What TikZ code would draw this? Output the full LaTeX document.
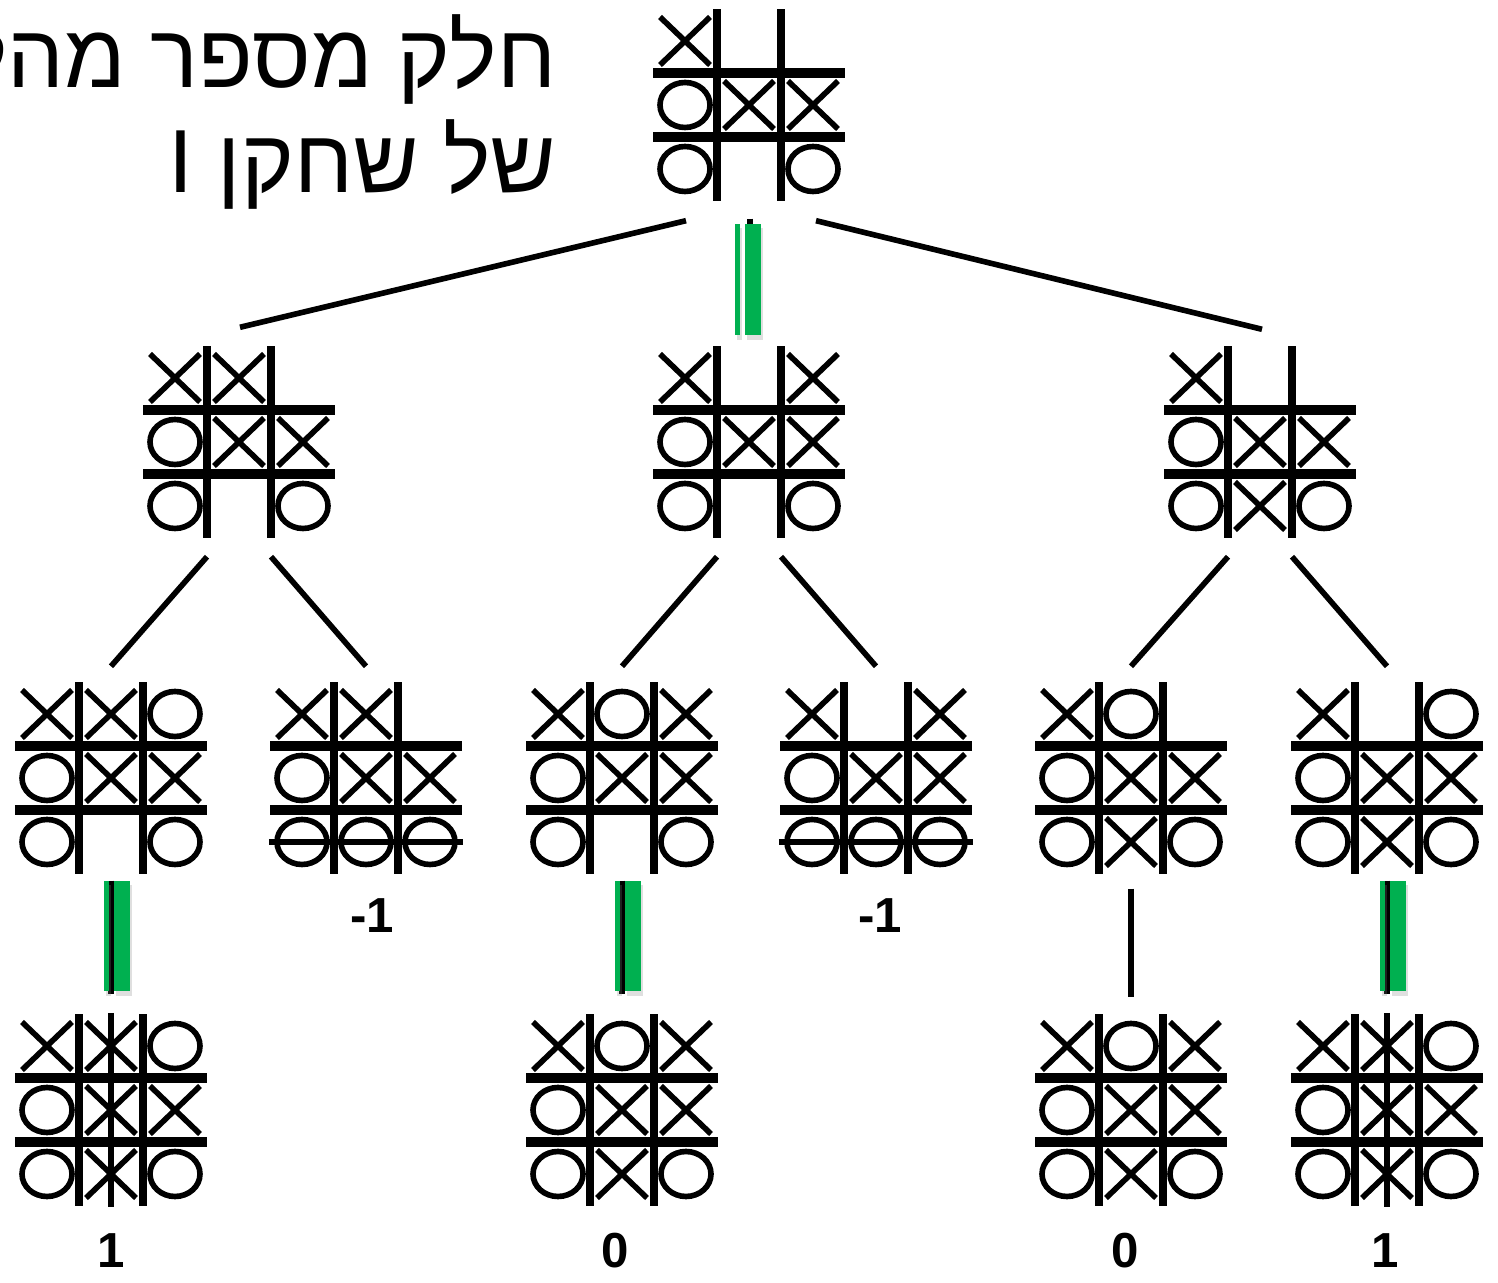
\documentclass[tikz,border=0pt]{standalone}
\usepackage{fontspec}
\setmainfont{Liberation Sans}
\newfontfamily\hebfont[Script=Hebrew]{Liberation Sans}
\TeXXeTstate=1
\usetikzlibrary{shadows}

\definecolor{pickgreen}{RGB}{0,176,80}

\tikzset{
	board/.style = {minimum size=1.93cm, inner sep=0pt},
	grid/.style = {line width=2.6pt},
	piece/.style = {line width=1.6pt},
	edge/.style = {line width=1.6pt},
	strike/.style = {line width=1.5pt},
	pick/.style = {fill=pickgreen, drop shadow={opacity=0.25, shadow xshift=0.6pt, shadow yshift=-1.2pt}},
	value/.style = {font=\fontsize{14}{14}\selectfont\bfseries, inner sep=0pt},
	title/.style = {font=\hebfont\fontsize{25.5}{30}\selectfont, inner sep=0pt},
}

% tic-tac-toe board: name, centre, X cells, O cells (column/row)
\newcommand{\Board}[4]{%
	\node[board] (#1) at (#2) {};
	\begin{scope}[shift={(#2)}]
		\draw[grid] (-0.96,0.32) -- (0.96,0.32) (-0.96,-0.32) -- (0.96,-0.32);
		\draw[grid, line width=2.1pt] (-0.32,-0.96) -- (-0.32,0.96) (0.32,-0.96) -- (0.32,0.96);
		\foreach \c/\r in {#3}
			\draw[piece] ({(\c-2)*0.64-0.25},{(2-\r)*0.64-0.24}) -- ++(0.5,0.48)
				({(\c-2)*0.64-0.25},{(2-\r)*0.64+0.24}) -- ++(0.5,-0.48);
		\foreach \c/\r in {#4}
			\draw[piece] ({(\c-2)*0.64},{(2-\r)*0.64}) ellipse (0.25 and 0.225);
	\end{scope}
}

\begin{document}
\begin{tikzpicture}
	\useasboundingbox (0,0) rectangle (14.98,-12.83);

	\node[title, anchor=base east] (t1) at (5.57,-0.88) {\beginR חלק מספר מהלכים\endR};
	\node[title, anchor=base east] (t2) at (5.57,-1.93) {\beginR של שחקן I\endR};

	\Board{root}{7.49,-1.05}{1/1, 2/2, 3/2}{1/2, 1/3, 3/3}

	\Board{A}{2.39,-4.42}{1/1, 2/1, 2/2, 3/2}{1/2, 1/3, 3/3}
	\Board{B}{7.49,-4.42}{1/1, 3/1, 2/2, 3/2}{1/2, 1/3, 3/3}
	\Board{C}{12.60,-4.42}{1/1, 2/2, 3/2, 2/3}{1/2, 1/3, 3/3}

	\Board{A1}{1.11,-7.78}{1/1, 2/1, 2/2, 3/2}{3/1, 1/2, 1/3, 3/3}
	\Board{A2}{3.66,-7.78}{1/1, 2/1, 2/2, 3/2}{1/2, 1/3, 2/3, 3/3}
	\Board{B1}{6.22,-7.78}{1/1, 3/1, 2/2, 3/2}{2/1, 1/2, 1/3, 3/3}
	\Board{B2}{8.76,-7.78}{1/1, 3/1, 2/2, 3/2}{1/2, 1/3, 2/3, 3/3}
	\Board{C1}{11.31,-7.78}{1/1, 2/2, 3/2, 2/3}{2/1, 1/2, 1/3, 3/3}
	\Board{C2}{13.87,-7.78}{1/1, 2/2, 3/2, 2/3}{3/1, 1/2, 1/3, 3/3}

	\Board{A11}{1.11,-11.10}{1/1, 2/1, 2/2, 3/2, 2/3}{3/1, 1/2, 1/3, 3/3}
	\Board{B11}{6.22,-11.10}{1/1, 3/1, 2/2, 3/2, 2/3}{2/1, 1/2, 1/3, 3/3}
	\Board{C11}{11.31,-11.10}{1/1, 3/1, 2/2, 3/2, 2/3}{2/1, 1/2, 1/3, 3/3}
	\Board{C21}{13.87,-11.10}{1/1, 2/1, 2/2, 3/2, 2/3}{3/1, 1/2, 1/3, 3/3}

	% winning lines
	\draw[strike] ([yshift=-0.64cm]A2.west) -- ([yshift=-0.64cm]A2.east);
	\draw[strike] ([yshift=-0.64cm]B2.west) -- ([yshift=-0.64cm]B2.east);
	\draw[strike] (A11.north) -- (A11.south);
	\draw[strike] (C21.north) -- (C21.south);

	% moves
	\draw[edge] ([shift={(-0.63,-0.185)}]root.south) -- ([shift={(0.01,0.175)}]A.north);
	\draw[edge] ([shift={(0.01,-0.165)}]root.south) -- ([shift={(0.01,0.095)}]B.north);
	\draw[edge] ([shift={(0.67,-0.185)}]root.south) -- ([shift={(0.02,0.155)}]C.north);
	\foreach \p/\q/\s in {A/A1/-1, A/A2/1, B/B1/-1, B/B2/1, C/C1/-1, C/C2/1}
		\draw[edge] ([shift={(\s*0.32,-0.175)}]\p.south) -- ([shift={(0,0.145)}]\q.north);
	\foreach \p/\q in {A1/A11, B1/B11, C2/C21}
		\draw[edge] ([yshift=-0.055cm]\p.south) -- ([yshift=0.185cm]\q.north);
	\draw[edge] ([yshift=-0.135cm]C1.south) -- ([yshift=0.155cm]C11.north);

	% chosen moves
	\fill[pick] ([shift={(-0.14,-0.215)}]root.south) rectangle ([shift={(-0.09,0.095)}]B.north);
	\fill[pick] ([shift={(-0.04,-0.215)}]root.south) rectangle ([shift={(0.12,0.095)}]B.north);
	\foreach \p/\q in {A1/A11, B1/B11, C2/C21} {
		\fill[pick] ([shift={(-0.075,-0.055)}]\p.south) rectangle ([shift={(-0.025,0.215)}]\q.north);
		\fill[pick] ([shift={(0.025,-0.055)}]\p.south) rectangle ([shift={(0.185,0.215)}]\q.north);
	}

	% values
	\node[value] (vA2) at ([shift={(0.06,-0.40)}]A2.south) {-1};
	\node[value] (vB2) at ([shift={(0.04,-0.40)}]B2.south) {-1};
	\node[value] (vA11) at ([shift={(0,-0.43)}]A11.south) {1};
	\node[value] (vB11) at ([shift={(-0.07,-0.43)}]B11.south) {0};
	\node[value] (vC11) at ([shift={(-0.06,-0.43)}]C11.south) {0};
	\node[value] (vC21) at ([shift={(-0.02,-0.43)}]C21.south) {1};
\end{tikzpicture}
\end{document}
